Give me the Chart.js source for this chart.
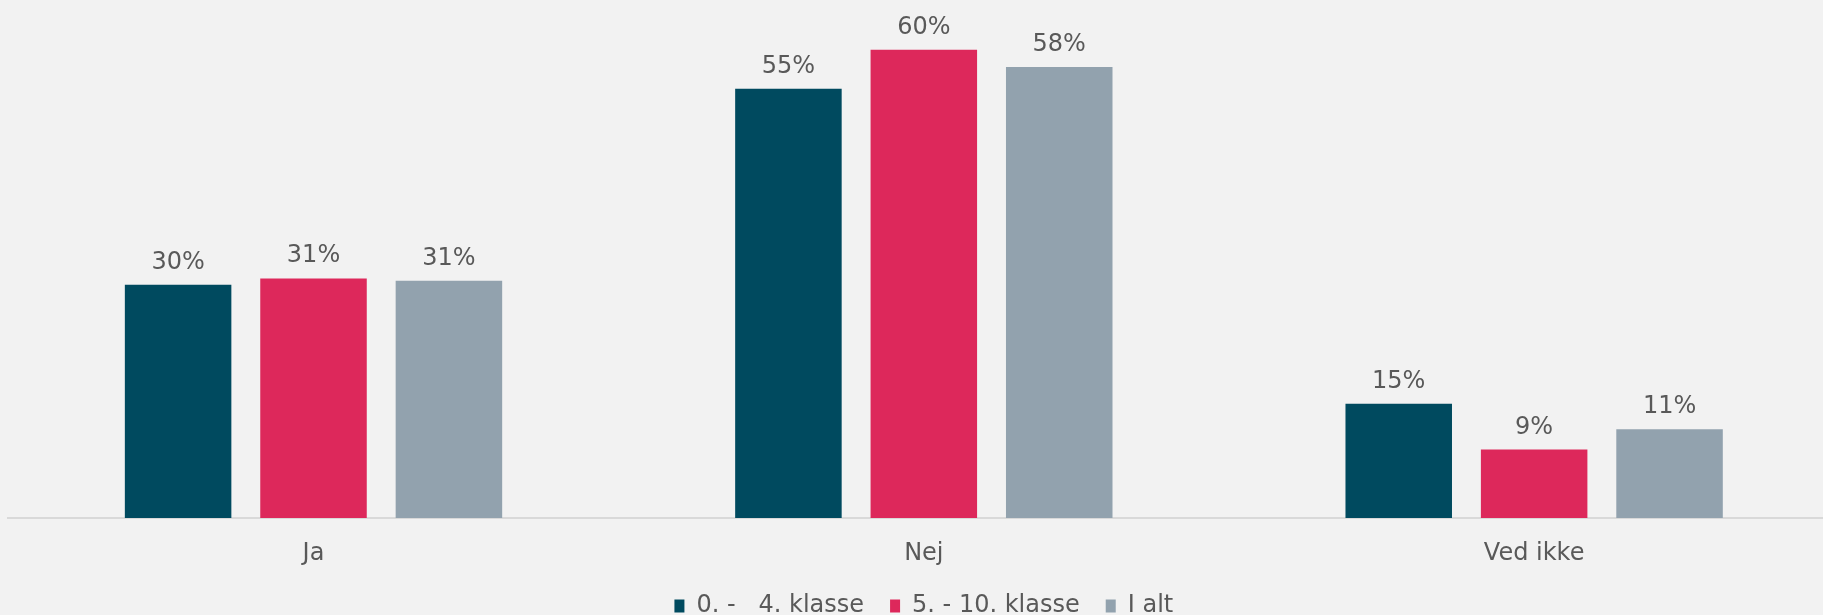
<!DOCTYPE html>
<html>
<head>
<title>Ja / Nej / Ved ikke</title>
<style>
    html, body { margin: 0; padding: 0; background: #f2f2f2; overflow: hidden; }
    #wrap { width: 1850px; height: 628px; }
</style>
</head>
<body>

<div id="wrap">
    <canvas id="myChart" width="1850" height="628"></canvas>
</div>

<script src="https://cdn.jsdelivr.net/npm/chart.js"></script>

<script>

    const categories = ['Ja', 'Nej', 'Ved ikke'];
    const seriesNames = ['0. -   4. klasse', '5. - 10. klasse', 'I alt'];
    const klasse0til4 = [30.0, 55.2, 14.7];
    const klasse5til10 = [30.8, 60.2, 8.8];
    const iAlt = [30.5, 58.0, 11.4];

    const textColor = '#595959';

    // percent labels over the bars
    const barLabels = {
        id: 'barLabels',
        afterDatasetsDraw(chart) {
            const ctx = chart.ctx;
            ctx.save();
            ctx.font = '24px "DejaVu Sans"';
            ctx.fillStyle = textColor;
            ctx.textAlign = 'center';
            ctx.textBaseline = 'alphabetic';
            chart.data.datasets.forEach((ds, i) => {
                chart.getDatasetMeta(i).data.forEach((bar, j) => {
                    ctx.fillText(Math.round(ds.data[j]) + '%', bar.x, bar.y - 16);
                });
            });
            ctx.restore();
        }
    };

    const ctx = document.getElementById('myChart');

    const data = {
        labels: categories,
        datasets: [
            {
            label: seriesNames[0],
            data: klasse0til4,
            backgroundColor: '#004a5f'
            },
            {
            label: seriesNames[1],
            data: klasse5til10,
            backgroundColor: '#dd285b'
            },
            {
            label: seriesNames[2],
            data: iAlt,
            backgroundColor: '#92a2ae'
            }
        ]
    };

    const config = {
        type: 'bar',
        data: data,
        plugins: [barLabels],
        options: {
            responsive: false,
            animation: false,
            categoryPercentage: 0.6656,
            barPercentage: 0.7866,
            layout: {
                padding: { top: 12.5, left: 8.35, right: 10.7, bottom: 0 }
            },
            scales: {
                x: {
                    grid: { display: false, drawTicks: false },
                    border: { display: true, color: '#d9d9d9', width: 2 },
                    ticks: {
                        color: textColor,
                        padding: 21,
                        font: { family: 'DejaVu Sans', size: 24 }
                    },
                    afterFit(scale) {
                        scale.height = 50;
                    }
                },
                y: {
                    display: false,
                    min: 0,
                    max: 65
                }
            },
            plugins: {
                legend: {
                    position: 'bottom',
                    labels: {
                        color: textColor,
                        boxWidth: 10,
                        boxHeight: 13,
                        padding: 26,
                        font: { family: 'DejaVu Sans', size: 24 }
                    }
                },
                tooltip: { enabled: false }
            }
        }
    };

    const xChart = new Chart(ctx, config);

</script>

</body>
</html>
